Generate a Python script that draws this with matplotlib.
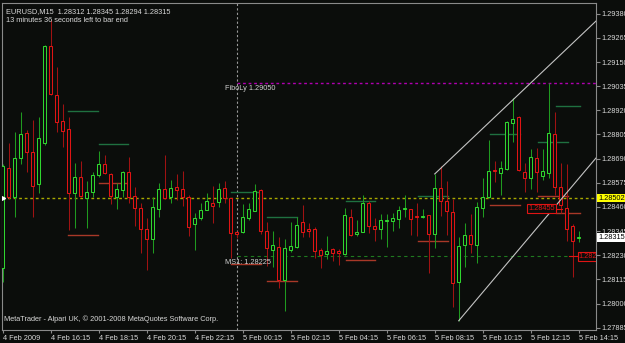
import numpy as np
import matplotlib
matplotlib.use("Agg")
import matplotlib.pyplot as plt
from matplotlib.patches import Rectangle
import matplotlib.transforms as mtransforms

# EURUSD M15, 4 Feb 2009 14:15 .. 5 Feb 2009 14:15
opens = [1.28169, 1.28645, 1.28509, 1.28691, 1.28810, 1.28723, 1.28568, 1.28763, 1.29226, 1.28993,
         1.28869, 1.28830, 1.28525, 1.28601, 1.28501, 1.28533, 1.28612, 1.28664, 1.28617, 1.28506,
         1.28541, 1.28626, 1.28512, 1.28456, 1.28353, 1.28306, 1.28451, 1.28544, 1.28509, 1.28556,
         1.28544, 1.28509, 1.28377, 1.28406, 1.28445, 1.28477, 1.28485, 1.28549, 1.28501, 1.28340,
         1.28342, 1.28409, 1.28442, 1.28541, 1.28345, 1.28255, 1.28270, 1.28112, 1.28255, 1.28268,
         1.28388, 1.28353, 1.28353, 1.28255, 1.28236, 1.28258, 1.28251, 1.28234, 1.28410, 1.28331,
         1.28342, 1.28480, 1.28369, 1.28356, 1.28391, 1.28393, 1.28401, 1.28451, 1.28449, 1.28417,
         1.28410, 1.28421, 1.28330, 1.28549, 1.28490, 1.28437, 1.28101, 1.28280, 1.28325, 1.28280,
         1.28453, 1.28506, 1.28634, 1.28623, 1.28639, 1.28861, 1.28887, 1.28628, 1.28599, 1.28691,
         1.28609, 1.28620, 1.28806, 1.28553, 1.28453, 1.28369, 1.28312]
highs = [1.28664, 1.28766, 1.28818, 1.28913, 1.28826, 1.28874, 1.28887, 1.29231, 1.29350, 1.29125,
         1.28949, 1.28887, 1.28670, 1.28680, 1.28585, 1.28626, 1.28728, 1.28707, 1.28623, 1.28575,
         1.28631, 1.28696, 1.28553, 1.28477, 1.28409, 1.28509, 1.28572, 1.28707, 1.28588, 1.28617,
         1.28631, 1.28515, 1.28432, 1.28477, 1.28528, 1.28560, 1.28575, 1.28583, 1.28502, 1.28345,
         1.28472, 1.28477, 1.28569, 1.28547, 1.28390, 1.28345, 1.28318, 1.28309, 1.28390, 1.28410,
         1.28469, 1.28382, 1.28363, 1.28263, 1.28321, 1.28263, 1.28258, 1.28456, 1.28449, 1.28398,
         1.28517, 1.28488, 1.28406, 1.28426, 1.28426, 1.28432, 1.28464, 1.28517, 1.28451, 1.28477,
         1.28449, 1.28421, 1.28617, 1.28655, 1.28583, 1.28496, 1.28315, 1.28382, 1.28425, 1.28485,
         1.28599, 1.28779, 1.28679, 1.28679, 1.28869, 1.28977, 1.28893, 1.28668, 1.28736, 1.28739,
         1.28734, 1.29049, 1.28910, 1.28670, 1.28663, 1.28379, 1.28345]
lows = [1.28102, 1.28498, 1.28412, 1.28664, 1.28628, 1.28412, 1.28525, 1.28755, 1.28993, 1.28818,
        1.28745, 1.28350, 1.28358, 1.28507, 1.28358, 1.28509, 1.28604, 1.28617, 1.28474, 1.28451,
        1.28506, 1.28477, 1.28369, 1.28239, 1.28160, 1.28239, 1.28410, 1.28498, 1.28477, 1.28493,
        1.28464, 1.28321, 1.28255, 1.28398, 1.28443, 1.28382, 1.28461, 1.28477, 1.28215, 1.28312,
        1.28337, 1.28398, 1.28440, 1.28330, 1.28179, 1.28175, 1.28072, 1.27966, 1.28247, 1.28264,
        1.28318, 1.28315, 1.28215, 1.28168, 1.28211, 1.28204, 1.28183, 1.28233, 1.28321, 1.28321,
        1.28340, 1.28337, 1.28299, 1.28309, 1.28270, 1.28347, 1.28358, 1.28413, 1.28326, 1.28323,
        1.28407, 1.28147, 1.28266, 1.28417, 1.28326, 1.27982, 1.27918, 1.28172, 1.28242, 1.28191,
        1.28410, 1.28501, 1.28580, 1.28517, 1.28636, 1.28770, 1.28631, 1.28532, 1.28544, 1.28532,
        1.28588, 1.28596, 1.28517, 1.28430, 1.28299, 1.28128, 1.28294]
closes = [1.28655, 1.28507, 1.28694, 1.28806, 1.28723, 1.28561, 1.28787, 1.29226, 1.28996, 1.28866,
          1.28823, 1.28528, 1.28601, 1.28510, 1.28532, 1.28614, 1.28664, 1.28620, 1.28512, 1.28547,
          1.28626, 1.28509, 1.28453, 1.28353, 1.28309, 1.28458, 1.28544, 1.28501, 1.28549, 1.28541,
          1.28509, 1.28366, 1.28407, 1.28445, 1.28488, 1.28466, 1.28544, 1.28501, 1.28337, 1.28333,
          1.28413, 1.28449, 1.28537, 1.28347, 1.28263, 1.28277, 1.28112, 1.28263, 1.28274, 1.28374,
          1.28342, 1.28347, 1.28251, 1.28231, 1.28250, 1.28239, 1.28239, 1.28420, 1.28326, 1.28342,
          1.28477, 1.28370, 1.28356, 1.28398, 1.28398, 1.28409, 1.28445, 1.28456, 1.28401, 1.28410,
          1.28418, 1.28330, 1.28549, 1.28488, 1.28440, 1.28096, 1.28275, 1.28326, 1.28283, 1.28458,
          1.28509, 1.28631, 1.28630, 1.28644, 1.28866, 1.28879, 1.28636, 1.28596, 1.28696, 1.28628,
          1.28632, 1.28810, 1.28553, 1.28469, 1.28355, 1.28299, 1.28315]

tick_bars = [0, 8, 16, 24, 32, 40, 48, 56, 64, 72, 80, 88, 96]
tick_labels = ["4 Feb 2009", "4 Feb 16:15", "4 Feb 18:15", "4 Feb 20:15", "4 Feb 22:15",
               "5 Feb 00:15", "5 Feb 02:15", "5 Feb 04:15", "5 Feb 06:15", "5 Feb 08:15",
               "5 Feb 10:15", "5 Feb 12:15", "5 Feb 14:15"]
price_ticks = [1.29380, 1.29265, 1.29150, 1.29035, 1.28920, 1.28805, 1.28690,
               1.28575, 1.28460, 1.28345, 1.28230, 1.28115, 1.28000, 1.27885]

# niveaux
bid = 1.28502
last = 1.28315
fibo = 1.29050
ms1 = 1.28225
day_start = 39

# segments courts (debut, fin, haut, bas)
seg_start = [10.9, 16.05, 38.05, 44.05, 57.2, 69.2, 81.2, 89.2, 92.2]
seg_end = [15.9, 20.9, 43.05, 49.05, 62.05, 74.2, 86.2, 94.2, 96.2]
seg_high = [1.28919, 1.28760, 1.28533, 1.28413, 1.28488, 1.28510, 1.28806, 1.28771, 1.28940]
seg_low = [1.28326, 1.28574, 1.28187, 1.28109, 1.28207, 1.28298, 1.28468, 1.28514, 1.28430]

# lignes de tendance
trend_up_x = [72, 98.88]
trend_up_y = [1.28617, 1.29345]
trend_dn_x = [76, 98.88]
trend_dn_y = [1.27918, 1.28693]

BG = "#0b0d0b"
UP, UP_W = "#2fd52f", "#1f9a1f"
DN, DN_W = "#e01414", "#a01212"
TXT = "#d8d8d8"
FONT = "Liberation Sans"
FS = 5.3

fig = plt.figure(figsize=(6.25, 3.43), dpi=100, facecolor=BG)
ax = fig.add_axes([2 / 625, 13 / 343, 594 / 625, 327 / 343], facecolor=BG)
ax.set_xlim(-0.12, 98.88)
ax.set_ylim(1.27874, 1.29431)

n = len(opens)
idx = np.arange(n)
o = np.array(opens); h = np.array(highs); l = np.array(lows); c = np.array(closes)
up = c >= o

# mèches
ax.vlines(idx[up], l[up], h[up], colors=UP_W, lw=0.75, zorder=3)
ax.vlines(idx[~up], l[~up], h[~up], colors=DN_W, lw=0.75, zorder=3)

# corps
for i in range(n):
    col = UP if up[i] else DN
    y0 = min(o[i], c[i])
    hh = max(abs(c[i] - o[i]), 0.00001)
    ax.add_patch(Rectangle((i - 0.27, y0), 0.54, hh, facecolor=BG, edgecolor=col,
                           lw=0.75, zorder=4))

# lignes horizontales
ax.axhline(bid, color="#a8a800", lw=1.0, ls=(0, (2, 2)), zorder=2)
ax.plot([day_start, 98.88], [fibo, fibo], color="#b000b0", lw=1.0, ls=(0, (2, 2)), zorder=2)
ax.plot([day_start, 98.88], [ms1, ms1], color="#1f7a1f", lw=0.8, ls=(0, (3, 3)), zorder=2)
ax.axvline(day_start, color="#9a9a9a", lw=0.8, ls=(0, (2, 2)), zorder=2)

for s, e, hi, lo in zip(seg_start, seg_end, seg_high, seg_low):
    ax.plot([s, e], [hi, hi], color="#1f7040", lw=1.0, zorder=2)
    ax.plot([s, e], [lo, lo], color="#a83828", lw=1.0, zorder=2)

ax.plot(trend_up_x, trend_up_y, color="#c4c4c4", lw=0.8, zorder=5)
ax.plot(trend_dn_x, trend_dn_y, color="#c4c4c4", lw=0.8, zorder=5)

ax.plot([0.1], [bid], marker=">", color="white", ms=3, zorder=6)

# textes
ax.text(37.0, fibo - 0.00025, "FiboLy 1.29050", color="#d0d0d0", fontsize=FS,
        family=FONT, va="center", ha="left", zorder=7)
ax.text(37.1, 1.28196, "MS1: 1.28225", color="#d0d0d0", fontsize=FS,
        family=FONT, va="center", ha="left", zorder=7)
ax.plot([92.05, 93.2], [1.28452, 1.28452], color="#e01414", lw=0.8, zorder=6)
ax.text(87.6, 1.28452, "1.28455", color="#e01414", fontsize=FS, family=FONT,
        va="center", ha="left", zorder=7,
        bbox=dict(boxstyle="square,pad=0.15", fc=BG, ec="#e01414", lw=0.8))
ax.plot([94.4, 95.8], [ms1, ms1], color="#e01414", lw=0.8, zorder=6)
ax.text(96.0, ms1, "1.28225", color="#e01414", fontsize=FS, family=FONT,
        va="center", ha="left", zorder=7, clip_on=True,
        bbox=dict(boxstyle="square,pad=0.15", fc=BG, ec="#e01414", lw=0.8))

ax.text(0.006, 0.985, "EURUSD,M15  1.28312 1.28345 1.28294 1.28315", transform=ax.transAxes,
        color=TXT, fontsize=FS, family=FONT, va="top", ha="left")
ax.text(0.006, 0.958, "13 minutes 36 seconds left to bar end", transform=ax.transAxes,
        color=TXT, fontsize=FS, family=FONT, va="top", ha="left")
ax.text(0.004, 0.02, "MetaTrader - Alpari UK, \u00a9 2001-2008 MetaQuotes Software Corp.",
        transform=ax.transAxes, color=TXT, fontsize=FS, family=FONT, va="bottom", ha="left")

# axes
for sp in ax.spines.values():
    sp.set_color("#8a8a8a")
    sp.set_linewidth(0.8)

ax.yaxis.tick_right()
ax.set_yticks(price_ticks)
ax.set_yticklabels(["%.5f" % p for p in price_ticks])
ax.tick_params(axis="y", colors="#8a8a8a", labelcolor=TXT, length=3, width=0.8,
               pad=1.2, labelsize=FS)
ax.set_xticks(tick_bars)
ax.set_xticklabels(tick_labels)
ax.tick_params(axis="x", colors="#8a8a8a", labelcolor=TXT, length=2.5, width=0.8,
               pad=0.8, labelsize=FS)
for lab in ax.get_xticklabels() + ax.get_yticklabels():
    lab.set_family(FONT)
for lab in ax.get_xticklabels():
    lab.set_ha("left")

tr = mtransforms.blended_transform_factory(ax.transAxes, ax.transData)
ax.text(1.004, bid, "1.28502", transform=tr, color="black", fontsize=FS, family=FONT,
        va="center", ha="left", clip_on=False,
        bbox=dict(boxstyle="square,pad=0.12", fc="#ffff00", ec="#ffff00", lw=0))
ax.text(1.004, last, "1.28315", transform=tr, color="black", fontsize=FS, family=FONT,
        va="center", ha="left", clip_on=False,
        bbox=dict(boxstyle="square,pad=0.12", fc="white", ec="white", lw=0))

fig.savefig("out.png", dpi=100, facecolor=BG)
